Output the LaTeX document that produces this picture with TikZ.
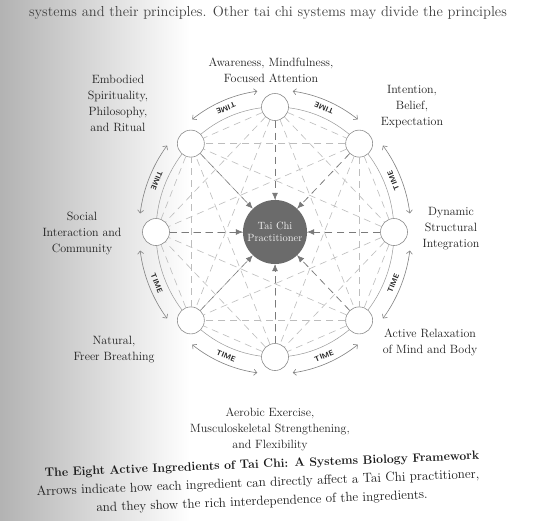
\documentclass[tikz,border=0pt]{standalone}
\usetikzlibrary{arrows.meta,calc}
\begin{document}
\begin{tikzpicture}[x=1pt,y=1pt,
  lbl/.style={font=\fontsize{12}{16}\selectfont, align=center, text=black!88, inner sep=0pt},
  captxt/.style={font=\fontsize{13.2}{15}\selectfont, text=black!90, inner sep=0pt, rotate=2.3},
  ing/.style={circle, minimum size=27pt, inner sep=0pt, draw=black!45, line width=0.6pt, fill=white},
  hub/.style={circle, minimum size=64pt, inner sep=0pt, fill=black!58, text=black!6, align=center, font=\fontsize{10.5}{12.5}\selectfont},
  ring/.style={draw=black!40, line width=0.5pt},
  chord/.style={draw=black!26, line width=0.6pt, dash pattern=on 7pt off 5pt},
  carrow/.style={draw=black!52, line width=0.6pt, dash pattern=on 7pt off 5pt, -{Latex[length=7pt,width=6pt]}},
  timearc/.style={draw=black!50, line width=0.6pt, {Straight Barb[length=3pt,width=6pt]}-{Straight Barb[length=3pt,width=6pt]}},
  timelbl/.style={font=\sffamily\bfseries\fontsize{7.5}{8}\selectfont, text=black!85, inner sep=0pt}
]
\useasboundingbox (0,0) rectangle (536,-520);
\fill[white] (0,0) rectangle (536,-520);
\shade[left color=black!30, right color=white] (0,0) rectangle (190,-520);

\coordinate (C) at (275,-232);

% top running text of the page
\node[font=\fontsize{14.5}{16}\selectfont, text=black!75, inner sep=0pt] (runtext) at (268,-13)
  {systems and their principles. Other tai chi systems may divide the principles};

% ring through the ingredients
\draw[ring] (C) ellipse [x radius=119, y radius=125];

% ingredient circles
\foreach \i/\a in {1/90,2/45,3/0,4/-45,5/-90,6/-135,7/180,8/135}
  \node[ing] (n\i) at ($(C)+(\a:119 and 125)$) {};

% interdependence (all pairs)
\foreach \i in {1,...,7}{
  \pgfmathtruncatemacro{\s}{\i+1}
  \foreach \j in {\s,...,8}
    \draw[chord] (n\i) -- (n\j);
}

% practitioner
\node[hub] (tc) at (C) {Tai Chi\\Practitioner};

% direct effects on the practitioner
\foreach \i in {1,...,8}
  \draw[carrow] (n\i) -- (tc);

% TIME arcs
\foreach \m in {112.5,67.5,22.5,-22.5,-67.5,-112.5,-157.5,157.5}{
  \draw[timearc] ($(C)+(\m-15:136 and 142)$) arc[start angle=\m-15, end angle=\m+15, x radius=136, y radius=142];
  \node[timelbl, rotate=\m+90] at ($(C)+(\m:128 and 134)$) {TIME};
}

% ingredient labels
\node[lbl] (l1) at (271,-70) {Awareness, Mindfulness,\\Focused Attention};
\node[lbl] (l2) at (412,-107) {Intention,\\Belief,\\Expectation};
\node[lbl] (l3) at (451,-229) {Dynamic\\Structural\\Integration};
\node[lbl] (l4) at (430,-342) {Active Relaxation\\of Mind and Body};
\node[lbl] (l5) at (270,-429) {Aerobic Exercise,\\Musculoskeletal Strengthening,\\and Flexibility};
\node[lbl] (l6) at (114,-350) {Natural,\\Freer Breathing};
\node[lbl] (l7) at (82,-233) {Social\\Interaction and\\Community};
\node[lbl] (l8) at (118,-103) {Embodied\\Spirituality,\\Philosophy,\\and Ritual};

% caption
\node[captxt, font=\bfseries\fontsize{12.2}{14}\selectfont] (c1) at (262,-465)
  {The Eight Active Ingredients of Tai Chi: A Systems Biology Framework};
\node[captxt] (c2) at (258,-483.5)
  {Arrows indicate how each ingredient can directly affect a Tai Chi practitioner,};
\node[captxt] (c3) at (262,-502)
  {and they show the rich interdependence of the ingredients.};
\end{tikzpicture}
\end{document}
